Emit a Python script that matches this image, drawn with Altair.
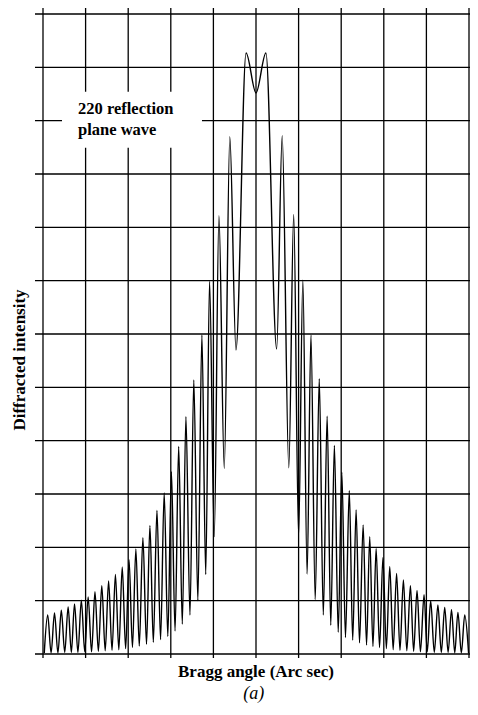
import altair as alt
import pandas as pd

# ---- data (x in grid units, 0 = Bragg peak; y in grid units) ----
left_peak_x = [-4.89, -4.73, -4.57, -4.41, -4.26, -4.10, -3.94, -3.78, -3.62, -3.46,
               -3.30, -3.14, -2.98, -2.82, -2.655, -2.49, -2.325, -2.155, -1.985, -1.815,
               -1.645, -1.46, -1.27, -1.09, -0.87, -0.615]
left_peak_y = [0.73, 0.77, 0.82, 0.88, 0.94, 1.01, 1.07, 1.17, 1.28, 1.37,
               1.49, 1.63, 1.77, 1.97, 2.18, 2.41, 2.69, 3.02, 3.42, 3.89,
               4.45, 5.14, 5.98, 6.99, 8.22, 9.70]
left_trough_x = [-4.97, -4.81, -4.65, -4.49, -4.335, -4.18, -4.02, -3.86, -3.70, -3.54,
                 -3.38, -3.22, -3.06, -2.90, -2.74, -2.57, -2.41, -2.24, -2.07, -1.90,
                 -1.73, -1.55, -1.365, -1.18, -0.98, -0.745, -0.47]
left_trough_y = [0.02, 0.02, 0.02, 0.03, 0.03, 0.03, 0.04, 0.04, 0.05, 0.06,
                 0.07, 0.08, 0.10, 0.12, 0.15, 0.18, 0.22, 0.27, 0.33, 0.43,
                 0.56, 0.73, 1.00, 1.49, 2.20, 3.48, 5.70]
center_x = [-0.233, 0.0, 0.233]
center_y = [11.27, 10.52, 11.27]
right_peak_x = [0.615, 0.885, 1.10, 1.29, 1.485, 1.67, 1.84, 2.015, 2.19, 2.35,
                2.515, 2.67, 2.82, 2.98, 3.14, 3.30, 3.46, 3.625, 3.78, 3.945,
                4.10, 4.27, 4.43, 4.59, 4.74, 4.90]
right_peak_y = [9.72, 8.24, 7.01, 5.98, 5.16, 4.46, 3.91, 3.41, 3.06, 2.70,
                2.42, 2.20, 1.98, 1.81, 1.64, 1.51, 1.39, 1.28, 1.19, 1.11,
                1.00, 0.92, 0.875, 0.83, 0.78, 0.73]
right_trough_x = [0.485, 0.77, 1.00, 1.20, 1.39, 1.58, 1.755, 1.93, 2.10, 2.27,
                  2.43, 2.595, 2.745, 2.90, 3.06, 3.22, 3.38, 3.54, 3.70, 3.86,
                  4.02, 4.185, 4.35, 4.51, 4.665, 4.82, 4.99]
right_trough_y = [5.72, 3.49, 2.22, 1.50, 1.02, 0.73, 0.54, 0.41, 0.31, 0.26,
                  0.21, 0.17, 0.14, 0.12, 0.10, 0.08, 0.07, 0.06, 0.05, 0.04,
                  0.04, 0.03, 0.03, 0.03, 0.02, 0.02, 0.02]

grid_x = [-5, -4, -3, -2, -1, 0, 1, 2, 3, 4, 5]
grid_y = [0, 1, 2, 3, 4, 5, 6, 7, 8, 9, 10, 11, 12]

label_lines = ["220 reflection", "plane wave"]
x_title = "Bragg angle (Arc sec)"
y_title = "Diffracted intensity"
caption = "(a)"

# ---- tables ----
xs = left_trough_x + left_peak_x + center_x + right_peak_x + right_trough_x
ys = left_trough_y + left_peak_y + center_y + right_peak_y + right_trough_y
curve = pd.DataFrame({"x": xs, "y": ys}).sort_values("x").reset_index(drop=True)

XMIN, XMAX = -5.2347, 5.0235
YMIN, YMAX = -0.1875, 12.1125
xscale = alt.Scale(domain=[XMIN, XMAX], nice=False, zero=False)
yscale = alt.Scale(domain=[YMIN, YMAX], nice=False, zero=False)

vgrid = pd.DataFrame({"gx": grid_x, "y0": [-0.075] * len(grid_x), "y1": [YMAX] * len(grid_x)})
hgrid = pd.DataFrame({"gy": grid_y, "x0": [-5.188] * len(grid_y), "x1": [XMAX] * len(grid_y)})

font = "Liberation Serif"

v_rules = alt.Chart(vgrid).mark_rule(color="black", strokeWidth=1.3).encode(
    x=alt.X("gx:Q", scale=xscale, axis=None),
    y=alt.Y("y0:Q", scale=yscale, axis=None),
    y2="y1:Q",
)

h_rules = alt.Chart(hgrid).mark_rule(color="black", strokeWidth=1.3).encode(
    y=alt.Y("gy:Q", scale=yscale, axis=None),
    x=alt.X("x0:Q", scale=xscale, axis=None),
    x2="x1:Q",
)

box = pd.DataFrame({"bx0": [-4.554], "bx1": [-1.268], "by0": [9.49], "by1": [10.54]})
white_box = alt.Chart(box).mark_rect(color="white").encode(
    x=alt.X("bx0:Q", scale=xscale, axis=None), x2="bx1:Q",
    y=alt.Y("by0:Q", scale=yscale, axis=None), y2="by1:Q",
)

ann = pd.DataFrame({"ax": [-4.178], "ay": [10.125], "t": [label_lines]})
ann_text = alt.Chart(ann).mark_text(
    align="left", baseline="alphabetic", font=font, fontSize=16.5, fontWeight="bold",
    lineHeight=21, color="black",
).encode(
    x=alt.X("ax:Q", scale=xscale, axis=None),
    y=alt.Y("ay:Q", scale=yscale, axis=None),
    text="t",
)

line = alt.Chart(curve).mark_line(color="#000000", strokeWidth=1.4, interpolate="monotone").encode(
    x=alt.X("x:Q", scale=xscale, axis=None),
    y=alt.Y("y:Q", scale=yscale, axis=None),
    order="x:Q",
)

titles = pd.DataFrame({
    "tx": [0.0, -5.540],
    "ty": [-0.34, 5.5125],
    "t": [x_title, y_title],
})
xt = alt.Chart(titles.iloc[[0]]).mark_text(
    align="center", baseline="middle", font=font, fontSize=17, fontWeight="bold", color="black",
).encode(
    x=alt.X("tx:Q", scale=xscale, axis=None),
    y=alt.Y("ty:Q", scale=yscale, axis=None),
    text="t",
)
yt = alt.Chart(titles.iloc[[1]]).mark_text(
    align="center", baseline="middle", font=font, fontSize=17, fontWeight="bold", color="black",
    angle=270,
).encode(
    x=alt.X("tx:Q", scale=xscale, axis=None),
    y=alt.Y("ty:Q", scale=yscale, axis=None),
    text="t",
)

cap = pd.DataFrame({"cx": [-0.05], "cy": [-0.84], "t": [caption]})
cap_text = alt.Chart(cap).mark_text(
    align="center", baseline="alphabetic", font=font, fontSize=18, fontStyle="italic",
    color="black",
).encode(
    x=alt.X("cx:Q", scale=xscale, axis=None),
    y=alt.Y("cy:Q", scale=yscale, axis=None),
    text="t",
)

chart = alt.layer(v_rules, h_rules, white_box, ann_text, line, xt, yt, cap_text).properties(
    width=437,
    height=656,
    padding={"left": 25, "top": 0, "right": 0, "bottom": 39},
    autosize=alt.AutoSizeParams(type="none"),
    background="white",
).configure_view(strokeWidth=0)

chart.save("out.html", embed_options={"renderer": "svg", "actions": False})
